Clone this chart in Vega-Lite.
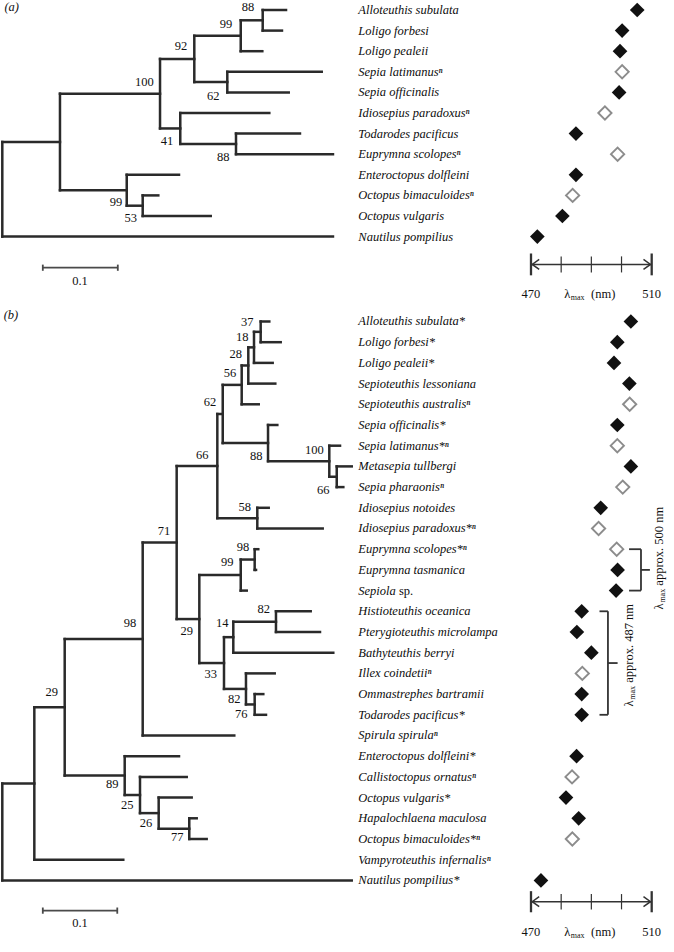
{
"$schema": "https://vega.github.io/schema/vega-lite/v6.json",
"width": 674, "height": 952,
"autosize": {"type": "none"}, "padding": 0,
"background": "white",
"config": {"view": {"stroke": null}, "font": "Liberation Serif"},
"datasets": {
"treeA": [
{"x":0,"x2":0,"y":6.406,"y2":11},{"x":0.0769,"x2":0.0769,"y":4.0625,"y2":8.75},{"x":0.2103,"x2":0.2103,"y":2.375,"y2":5.75},{"x":0.256,"x2":0.256,"y":1.25,"y2":3.5},{"x":0.3179,"x2":0.3179,"y":0.5,"y2":2},{"x":0.3472,"x2":0.3472,"y":0,"y2":1},{"x":0.3,"x2":0.3,"y":3,"y2":4},{"x":0.2373,"x2":0.2373,"y":5,"y2":6.5},{"x":0.3116,"x2":0.3116,"y":6,"y2":7},{"x":0.1659,"x2":0.1659,"y":8,"y2":9.5},{"x":0.1872,"x2":0.1872,"y":9,"y2":10},
{"x":0,"x2":0.0769,"y":6.406,"y2":6.406},{"x":0,"x2":0.4409,"y":11,"y2":11},{"x":0.0769,"x2":0.2103,"y":4.0625,"y2":4.0625},{"x":0.0769,"x2":0.1659,"y":8.75,"y2":8.75},{"x":0.2103,"x2":0.256,"y":2.375,"y2":2.375},{"x":0.2103,"x2":0.2373,"y":5.75,"y2":5.75},{"x":0.256,"x2":0.3179,"y":1.25,"y2":1.25},{"x":0.256,"x2":0.3,"y":3.5,"y2":3.5},{"x":0.3179,"x2":0.3472,"y":0.5,"y2":0.5},{"x":0.3179,"x2":0.3467,"y":2,"y2":2},{"x":0.3472,"x2":0.3783,"y":0,"y2":0},{"x":0.3472,"x2":0.3729,"y":1,"y2":1},{"x":0.3,"x2":0.4259,"y":3,"y2":3},{"x":0.3,"x2":0.3819,"y":4,"y2":4},{"x":0.2373,"x2":0.356,"y":5,"y2":5},{"x":0.2373,"x2":0.3116,"y":6.5,"y2":6.5},{"x":0.3116,"x2":0.3969,"y":6,"y2":6},{"x":0.3116,"x2":0.4409,"y":7,"y2":7},{"x":0.1659,"x2":0.2356,"y":8,"y2":8},{"x":0.1659,"x2":0.1872,"y":9.5,"y2":9.5},{"x":0.1872,"x2":0.208,"y":9,"y2":9},{"x":0.1872,"x2":0.2779,"y":10,"y2":10}
],
"treeB": [
{"x":0.3445,"x2":0.3445,"y":0,"y2":1},{"x":0.3356,"x2":0.3356,"y":0.5,"y2":2},{"x":0.328,"x2":0.328,"y":1.25,"y2":3},{"x":0.3192,"x2":0.3192,"y":2.125,"y2":4},{"x":0.4459,"x2":0.4459,"y":7,"y2":8},{"x":0.436,"x2":0.436,"y":6,"y2":7.5},{"x":0.3543,"x2":0.3543,"y":5,"y2":6.75},{"x":0.2939,"x2":0.2939,"y":3.0625,"y2":5.875},{"x":0.34,"x2":0.34,"y":9,"y2":10},{"x":0.2867,"x2":0.2867,"y":4.46875,"y2":9.5},{"x":0.3365,"x2":0.3365,"y":11,"y2":12},{"x":0.3179,"x2":0.3179,"y":11.5,"y2":13},{"x":0.3649,"x2":0.3649,"y":14,"y2":15},{"x":0.308,"x2":0.308,"y":14.5,"y2":16},{"x":0.3365,"x2":0.3365,"y":18,"y2":19},{"x":0.3249,"x2":0.3249,"y":17,"y2":18.5},{"x":0.2956,"x2":0.2956,"y":15.25,"y2":17.75},{"x":0.2627,"x2":0.2627,"y":12.25,"y2":16.5},{"x":0.2325,"x2":0.2325,"y":6.984,"y2":14.375},{"x":0.1872,"x2":0.1872,"y":10.68,"y2":20},{"x":0.2493,"x2":0.2493,"y":24,"y2":25},{"x":0.2085,"x2":0.2085,"y":23,"y2":24.5},{"x":0.1836,"x2":0.1836,"y":22,"y2":23.75},{"x":0.1632,"x2":0.1632,"y":21,"y2":22.875},{"x":0.0832,"x2":0.0832,"y":15.34,"y2":21.9375},{"x":0.0427,"x2":0.0427,"y":18.639,"y2":26},{"x":0,"x2":0,"y":22.32,"y2":27},
{"x":0,"x2":0.0427,"y":22.32,"y2":22.32},{"x":0,"x2":0.4659,"y":27,"y2":27},{"x":0.0427,"x2":0.0832,"y":18.639,"y2":18.639},{"x":0.0427,"x2":0.1613,"y":26,"y2":26},{"x":0.0832,"x2":0.1872,"y":15.34,"y2":15.34},{"x":0.0832,"x2":0.1632,"y":21.9375,"y2":21.9375},{"x":0.1872,"x2":0.2325,"y":10.68,"y2":10.68},{"x":0.1872,"x2":0.3093,"y":20,"y2":20},{"x":0.2325,"x2":0.2867,"y":6.984,"y2":6.984},{"x":0.2325,"x2":0.2627,"y":14.375,"y2":14.375},{"x":0.2867,"x2":0.2939,"y":4.46875,"y2":4.46875},{"x":0.2867,"x2":0.34,"y":9.5,"y2":9.5},{"x":0.2939,"x2":0.3192,"y":3.0625,"y2":3.0625},{"x":0.2939,"x2":0.3543,"y":5.875,"y2":5.875},{"x":0.3192,"x2":0.328,"y":2.125,"y2":2.125},{"x":0.3192,"x2":0.3419,"y":4,"y2":4},{"x":0.328,"x2":0.3356,"y":1.25,"y2":1.25},{"x":0.328,"x2":0.364,"y":3,"y2":3},{"x":0.3356,"x2":0.3445,"y":0.5,"y2":0.5},{"x":0.3356,"x2":0.3605,"y":2,"y2":2},{"x":0.3445,"x2":0.356,"y":0,"y2":0},{"x":0.3445,"x2":0.3712,"y":1,"y2":1},{"x":0.3543,"x2":0.3667,"y":5,"y2":5},{"x":0.3543,"x2":0.436,"y":6.75,"y2":6.75},{"x":0.436,"x2":0.4503,"y":6,"y2":6},{"x":0.436,"x2":0.4459,"y":7.5,"y2":7.5},{"x":0.4459,"x2":0.4659,"y":7,"y2":7},{"x":0.4459,"x2":0.4547,"y":8,"y2":8},{"x":0.34,"x2":0.3552,"y":9,"y2":9},{"x":0.34,"x2":0.4272,"y":10,"y2":10},{"x":0.2627,"x2":0.3179,"y":12.25,"y2":12.25},{"x":0.2627,"x2":0.2956,"y":16.5,"y2":16.5},{"x":0.3179,"x2":0.3365,"y":11.5,"y2":11.5},{"x":0.3179,"x2":0.3259,"y":13,"y2":13},{"x":0.3365,"x2":0.3413,"y":11,"y2":11},{"x":0.3365,"x2":0.3383,"y":12,"y2":12},{"x":0.2956,"x2":0.308,"y":15.25,"y2":15.25},{"x":0.2956,"x2":0.3249,"y":17.75,"y2":17.75},{"x":0.308,"x2":0.3649,"y":14.5,"y2":14.5},{"x":0.308,"x2":0.4413,"y":16,"y2":16},{"x":0.3649,"x2":0.4112,"y":14,"y2":14},{"x":0.3649,"x2":0.4236,"y":15,"y2":15},{"x":0.3249,"x2":0.3632,"y":17,"y2":17},{"x":0.3249,"x2":0.3365,"y":18.5,"y2":18.5},{"x":0.3365,"x2":0.348,"y":18,"y2":18},{"x":0.3365,"x2":0.3516,"y":19,"y2":19},{"x":0.1632,"x2":0.2356,"y":21,"y2":21},{"x":0.1632,"x2":0.1836,"y":22.875,"y2":22.875},{"x":0.1836,"x2":0.2459,"y":22,"y2":22},{"x":0.1836,"x2":0.2085,"y":23.75,"y2":23.75},{"x":0.2085,"x2":0.2525,"y":23,"y2":23},{"x":0.2085,"x2":0.2493,"y":24.5,"y2":24.5},{"x":0.2493,"x2":0.2592,"y":24,"y2":24},{"x":0.2493,"x2":0.2725,"y":25,"y2":25}
],
"bootA": [{"x":0.3276,"y":-0.16,"label":"88"},{"x":0.2983,"y":0.68,"label":"99"},{"x":0.2383,"y":1.73,"label":"92"},{"x":0.1893,"y":3.48,"label":"100"},{"x":0.2813,"y":4.16,"label":"62"},{"x":0.2196,"y":6.36,"label":"41"},{"x":0.2947,"y":7.12,"label":"88"},{"x":0.1516,"y":9.31,"label":"99"},{"x":0.1712,"y":10.08,"label":"53"}],
"bootB": [{"x":0.3267,"y":0.01,"label":"37"},{"x":0.32,"y":0.76,"label":"18"},{"x":0.3112,"y":1.57,"label":"28"},{"x":0.3036,"y":2.47,"label":"56"},{"x":0.2769,"y":3.87,"label":"62"},{"x":0.3387,"y":6.5,"label":"88"},{"x":0.416,"y":6.21,"label":"100"},{"x":0.428,"y":8.14,"label":"66"},{"x":0.2667,"y":6.45,"label":"66"},{"x":0.3232,"y":8.95,"label":"58"},{"x":0.2156,"y":10.11,"label":"71"},{"x":0.3209,"y":10.88,"label":"98"},{"x":0.3,"y":11.63,"label":"99"},{"x":0.2459,"y":14.94,"label":"29"},{"x":0.2933,"y":14.55,"label":"14"},{"x":0.3485,"y":13.9,"label":"82"},{"x":0.2779,"y":17.04,"label":"33"},{"x":0.3093,"y":18.22,"label":"82"},{"x":0.3187,"y":18.98,"label":"76"},{"x":0.1703,"y":14.58,"label":"98"},{"x":0.0659,"y":17.88,"label":"29"},{"x":0.1467,"y":22.34,"label":"89"},{"x":0.1667,"y":23.37,"label":"25"},{"x":0.1916,"y":24.21,"label":"26"},{"x":0.2333,"y":24.92,"label":"77"}],
"speciesA": [{"row":0,"name":"Alloteuthis subulata"},{"row":1,"name":"Loligo forbesi"},{"row":2,"name":"Loligo pealeii"},{"row":3,"name":"Sepia latimanusⁿ"},{"row":4,"name":"Sepia officinalis"},{"row":5,"name":"Idiosepius paradoxusⁿ"},{"row":6,"name":"Todarodes pacificus"},{"row":7,"name":"Euprymna scolopesⁿ"},{"row":8,"name":"Enteroctopus dolfleini"},{"row":9,"name":"Octopus bimaculoidesⁿ"},{"row":10,"name":"Octopus vulgaris"},{"row":11,"name":"Nautilus pompilius"}],
"speciesB": [{"row":0,"name":"Alloteuthis subulata*"},{"row":1,"name":"Loligo forbesi*"},{"row":2,"name":"Loligo pealeii*"},{"row":3,"name":"Sepioteuthis lessoniana"},{"row":4,"name":"Sepioteuthis australisⁿ"},{"row":5,"name":"Sepia officinalis*"},{"row":6,"name":"Sepia latimanus*ⁿ"},{"row":7,"name":"Metasepia tullbergi"},{"row":8,"name":"Sepia pharaonisⁿ"},{"row":9,"name":"Idiosepius notoides"},{"row":10,"name":"Idiosepius paradoxus*ⁿ"},{"row":11,"name":"Euprymna scolopes*ⁿ"},{"row":12,"name":"Euprymna tasmanica"},{"row":13,"name":"Sepiola"},{"row":14,"name":"Histioteuthis oceanica"},{"row":15,"name":"Pterygioteuthis microlampa"},{"row":16,"name":"Bathyteuthis berryi"},{"row":17,"name":"Illex coindetiiⁿ"},{"row":18,"name":"Ommastrephes bartramii"},{"row":19,"name":"Todarodes pacificus*"},{"row":20,"name":"Spirula spirulaⁿ"},{"row":21,"name":"Enteroctopus dolfleini*"},{"row":22,"name":"Callistoctopus ornatusⁿ"},{"row":23,"name":"Octopus vulgaris*"},{"row":24,"name":"Hapalochlaena maculosa"},{"row":25,"name":"Octopus bimaculoides*ⁿ"},{"row":26,"name":"Vampyroteuthis infernalisⁿ"},{"row":27,"name":"Nautilus pompilius*"}],
"lambdaA": [{"row":0,"lambda":505.2,"open":false},{"row":1,"lambda":500.2,"open":false},{"row":2,"lambda":499.5,"open":false},{"row":3,"lambda":500.2,"open":true},{"row":4,"lambda":499.2,"open":false},{"row":5,"lambda":494.5,"open":true},{"row":6,"lambda":484.9,"open":false},{"row":7,"lambda":498.7,"open":true},{"row":8,"lambda":484.9,"open":false},{"row":9,"lambda":483.8,"open":true},{"row":10,"lambda":480.4,"open":false},{"row":11,"lambda":472.1,"open":false}],
"lambdaB": [{"row":0,"lambda":503.1,"open":false},{"row":1,"lambda":498.6,"open":false},{"row":2,"lambda":497.5,"open":false},{"row":3,"lambda":502.6,"open":false},{"row":4,"lambda":502.7,"open":true},{"row":5,"lambda":498.6,"open":false},{"row":6,"lambda":498.6,"open":true},{"row":7,"lambda":503.1,"open":false},{"row":8,"lambda":500.4,"open":true},{"row":9,"lambda":493.1,"open":false},{"row":10,"lambda":492.4,"open":true},{"row":11,"lambda":498.4,"open":true},{"row":12,"lambda":498.7,"open":false},{"row":13,"lambda":498.2,"open":false},{"row":14,"lambda":486.8,"open":false},{"row":15,"lambda":485.2,"open":false},{"row":16,"lambda":490,"open":false},{"row":17,"lambda":487,"open":true},{"row":18,"lambda":486.8,"open":false},{"row":19,"lambda":486.8,"open":false},{"row":21,"lambda":485.1,"open":false},{"row":22,"lambda":483.6,"open":true},{"row":23,"lambda":481.6,"open":false},{"row":24,"lambda":485.8,"open":false},{"row":25,"lambda":483.7,"open":true},{"row":27,"lambda":473.3,"open":false}],
"scaleA": [{"x":0.054,"x2":0.154,"y":12.51,"y2":12.51},{"x":0.054,"x2":0.054,"y":12.36,"y2":12.66},{"x":0.154,"x2":0.154,"y":12.36,"y2":12.66}],
"scaleB": [{"x":0.054,"x2":0.1533,"y":28.46,"y2":28.46},{"x":0.054,"x2":0.054,"y":28.31,"y2":28.61},{"x":0.1533,"x2":0.1533,"y":28.31,"y2":28.61}],
"textA": [{"x":0.1036,"y":13.16,"t":"0.1","part":"bar"},{"x":0.0125,"y":-0.13,"t":"(a)","part":"panel"}],
"textB": [{"x":0.1036,"y":29.04,"t":"0.1","part":"bar"},{"x":0.0115,"y":-0.31,"t":"(b)","part":"panel"},{"x":0.5288,"y":13,"t":"sp.","part":"sp"}],
"axisA": [{"part":"line","lambda":470,"lambda2":510,"y":12.35,"y2":12.35},{"part":"end","lambda":470,"lambda2":470,"y":11.82,"y2":12.88},{"part":"end","lambda":510,"lambda2":510,"y":11.82,"y2":12.88},{"part":"tick","lambda":480,"lambda2":480,"y":11.96,"y2":12.74},{"part":"tick","lambda":490,"lambda2":490,"y":11.96,"y2":12.74},{"part":"tick","lambda":500,"lambda2":500,"y":11.96,"y2":12.74}],
"axisB": [{"part":"line","lambda":470,"lambda2":510,"y":28.03,"y2":28.03},{"part":"end","lambda":470,"lambda2":470,"y":27.52,"y2":28.54},{"part":"end","lambda":510,"lambda2":510,"y":27.52,"y2":28.54},{"part":"tick","lambda":480,"lambda2":480,"y":27.66,"y2":28.4},{"part":"tick","lambda":490,"lambda2":490,"y":27.66,"y2":28.4},{"part":"tick","lambda":500,"lambda2":500,"y":27.66,"y2":28.4}],
"arrowsA": [{"dir":"left","lambda":470.4,"y":12.35},{"dir":"right","lambda":509.6,"y":12.35}],
"arrowsB": [{"dir":"left","lambda":470.4,"y":28.03},{"dir":"right","lambda":509.6,"y":28.03}],
"axisTextA": [{"part":"num","lambda":470,"y":13.79,"t":"470"},{"part":"num","lambda":510,"y":13.79,"t":"510"},{"part":"lam","lambda":482.03,"y":13.79,"t":"λ"},{"part":"max","lambda":483.2,"y":13.79,"t":"max"},{"part":"nm","lambda":489.9,"y":13.79,"t":"(nm)"}],
"axisTextB": [{"part":"num","lambda":470,"y":29.5,"t":"470"},{"part":"num","lambda":510,"y":29.5,"t":"510"},{"part":"lam","lambda":482.03,"y":29.5,"t":"λ"},{"part":"max","lambda":483.2,"y":29.5,"t":"max"},{"part":"nm","lambda":489.9,"y":29.5,"t":"(nm)"}],
"brackets": [{"lambda":495.5,"lambda2":495.5,"y":14,"y2":19},{"lambda":492.7,"lambda2":495.5,"y":14,"y2":14},{"lambda":492.7,"lambda2":495.5,"y":19,"y2":19},{"lambda":495.5,"lambda2":498.7,"y":16.5,"y2":16.5},{"lambda":506.45,"lambda2":506.45,"y":11,"y2":13},{"lambda":502.5,"lambda2":506.45,"y":11,"y2":11},{"lambda":502.5,"lambda2":506.45,"y":13,"y2":13},{"lambda":506.45,"lambda2":509.4,"y":12,"y2":12}],
"bracketText": [{"part":"lam","lambda":502.5,"y":18.6,"t":"λ"},{"part":"max","lambda":502.5,"y":18.27,"t":"max"},{"part":"rest","lambda":502.5,"y":17.45,"t":"approx. 487 nm"},{"part":"lam","lambda":512.4,"y":13.91,"t":"λ"},{"part":"max","lambda":512.4,"y":13.58,"t":"max"},{"part":"rest","lambda":512.4,"y":12.76,"t":"approx. 500 nm"}]
},
"layer": [
{"data":{"name":"treeA"},"mark":{"type":"rule","stroke":"#2a2a2a","strokeWidth":2.5,"strokeCap":"square"},"encoding":{"x":{"field":"x","type":"quantitative","scale":{"domain":[-0.003067,0.8956],"nice":false,"zero":false},"axis":null},"x2":{"field":"x2"},"y":{"field":"y","type":"quantitative","scale":{"domain":[-0.4854,45.728],"reverse":true,"nice":false,"zero":false},"axis":null},"y2":{"field":"y2"}}},
{"data":{"name":"bootA"},"mark":{"type":"text","font":"Liberation Serif","fontSize":12.5,"align":"center","baseline":"middle","color":"#111"},"encoding":{"x":{"field":"x","type":"quantitative","scale":{"domain":[-0.003067,0.8956],"nice":false,"zero":false},"axis":null},"y":{"field":"y","type":"quantitative","scale":{"domain":[-0.4854,45.728],"reverse":true,"nice":false,"zero":false},"axis":null},"text":{"field":"label"}}},
{"data":{"name":"speciesA"},"mark":{"type":"text","font":"Liberation Serif","fontSize":12.5,"fontStyle":"italic","align":"left","baseline":"middle","color":"#0d0d0d"},"encoding":{"x":{"datum":0.4747,"type":"quantitative","scale":{"domain":[-0.003067,0.8956],"nice":false,"zero":false},"axis":null},"y":{"field":"row","type":"quantitative","scale":{"domain":[-0.4854,45.728],"reverse":true,"nice":false,"zero":false},"axis":null},"text":{"field":"name"}}},
{"data":{"name":"scaleA"},"mark":{"type":"rule","stroke":"#4a4a4a","strokeWidth":1.8},"encoding":{"x":{"field":"x","type":"quantitative","scale":{"domain":[-0.003067,0.8956],"nice":false,"zero":false},"axis":null},"x2":{"field":"x2"},"y":{"field":"y","type":"quantitative","scale":{"domain":[-0.4854,45.728],"reverse":true,"nice":false,"zero":false},"axis":null},"y2":{"field":"y2"}}},
{"data":{"name":"textA"},"transform":[{"filter":"datum.part == 'bar'"}],"mark":{"type":"text","font":"Liberation Serif","fontSize":12.5,"align":"center","baseline":"middle","color":"#111"},"encoding":{"x":{"field":"x","type":"quantitative","scale":{"domain":[-0.003067,0.8956],"nice":false,"zero":false},"axis":null},"y":{"field":"y","type":"quantitative","scale":{"domain":[-0.4854,45.728],"reverse":true,"nice":false,"zero":false},"axis":null},"text":{"field":"t"}}},
{"data":{"name":"textA"},"transform":[{"filter":"datum.part == 'panel'"}],"mark":{"type":"text","font":"Liberation Serif","fontSize":12.5,"fontStyle":"italic","align":"center","baseline":"middle","color":"#111"},"encoding":{"x":{"field":"x","type":"quantitative","scale":{"domain":[-0.003067,0.8956],"nice":false,"zero":false},"axis":null},"y":{"field":"y","type":"quantitative","scale":{"domain":[-0.4854,45.728],"reverse":true,"nice":false,"zero":false},"axis":null},"text":{"field":"t"}}},
{"data":{"name":"lambdaA"},"transform":[{"filter":"!datum.open"}],"mark":{"type":"point","shape":"diamond","filled":true,"size":215,"color":"#111","opacity":1},"encoding":{"x":{"field":"lambda","type":"quantitative","scale":{"domain":[294.03,517.39],"nice":false,"zero":false},"axis":null},"y":{"field":"row","type":"quantitative","scale":{"domain":[-0.4854,45.728],"reverse":true,"nice":false,"zero":false},"axis":null}}},
{"data":{"name":"lambdaA"},"transform":[{"filter":"datum.open"}],"mark":{"type":"point","shape":"diamond","filled":false,"size":175,"stroke":"#8c8c8c","strokeWidth":1.9,"opacity":1},"encoding":{"x":{"field":"lambda","type":"quantitative","scale":{"domain":[294.03,517.39],"nice":false,"zero":false},"axis":null},"y":{"field":"row","type":"quantitative","scale":{"domain":[-0.4854,45.728],"reverse":true,"nice":false,"zero":false},"axis":null}}},
{"data":{"name":"axisA"},"transform":[{"filter":"datum.part == 'line'"}],"mark":{"type":"rule","stroke":"#333","strokeWidth":1.5},"encoding":{"x":{"field":"lambda","type":"quantitative","scale":{"domain":[294.03,517.39],"nice":false,"zero":false},"axis":null},"x2":{"field":"lambda2"},"y":{"field":"y","type":"quantitative","scale":{"domain":[-0.4854,45.728],"reverse":true,"nice":false,"zero":false},"axis":null},"y2":{"field":"y2"}}},
{"data":{"name":"axisA"},"transform":[{"filter":"datum.part == 'end'"}],"mark":{"type":"rule","stroke":"#333","strokeWidth":2.3},"encoding":{"x":{"field":"lambda","type":"quantitative","scale":{"domain":[294.03,517.39],"nice":false,"zero":false},"axis":null},"x2":{"field":"lambda2"},"y":{"field":"y","type":"quantitative","scale":{"domain":[-0.4854,45.728],"reverse":true,"nice":false,"zero":false},"axis":null},"y2":{"field":"y2"}}},
{"data":{"name":"axisA"},"transform":[{"filter":"datum.part == 'tick'"}],"mark":{"type":"rule","stroke":"#333","strokeWidth":1.2},"encoding":{"x":{"field":"lambda","type":"quantitative","scale":{"domain":[294.03,517.39],"nice":false,"zero":false},"axis":null},"x2":{"field":"lambda2"},"y":{"field":"y","type":"quantitative","scale":{"domain":[-0.4854,45.728],"reverse":true,"nice":false,"zero":false},"axis":null},"y2":{"field":"y2"}}},
{"data":{"name":"arrowsA"},"transform":[{"filter":"datum.dir == 'left'"}],"mark":{"type":"point","shape":"M1.4,-1L0,0L1.4,1","filled":false,"size":100,"stroke":"#333","strokeWidth":1.5,"opacity":1},"encoding":{"x":{"field":"lambda","type":"quantitative","scale":{"domain":[294.03,517.39],"nice":false,"zero":false},"axis":null},"y":{"field":"y","type":"quantitative","scale":{"domain":[-0.4854,45.728],"reverse":true,"nice":false,"zero":false},"axis":null}}},
{"data":{"name":"arrowsA"},"transform":[{"filter":"datum.dir == 'right'"}],"mark":{"type":"point","shape":"M-1.4,-1L0,0L-1.4,1","filled":false,"size":100,"stroke":"#333","strokeWidth":1.5,"opacity":1},"encoding":{"x":{"field":"lambda","type":"quantitative","scale":{"domain":[294.03,517.39],"nice":false,"zero":false},"axis":null},"y":{"field":"y","type":"quantitative","scale":{"domain":[-0.4854,45.728],"reverse":true,"nice":false,"zero":false},"axis":null}}},
{"data":{"name":"axisTextA"},"transform":[{"filter":"datum.part == 'num' || datum.part == 'lam'"}],"mark":{"type":"text","font":"Liberation Serif","fontSize":12.5,"align":"center","baseline":"middle","color":"#111"},"encoding":{"x":{"field":"lambda","type":"quantitative","scale":{"domain":[294.03,517.39],"nice":false,"zero":false},"axis":null},"y":{"field":"y","type":"quantitative","scale":{"domain":[-0.4854,45.728],"reverse":true,"nice":false,"zero":false},"axis":null},"text":{"field":"t"}}},
{"data":{"name":"axisTextA"},"transform":[{"filter":"datum.part == 'max'"}],"mark":{"type":"text","font":"Liberation Serif","fontSize":8,"align":"left","baseline":"middle","dy":4,"color":"#111"},"encoding":{"x":{"field":"lambda","type":"quantitative","scale":{"domain":[294.03,517.39],"nice":false,"zero":false},"axis":null},"y":{"field":"y","type":"quantitative","scale":{"domain":[-0.4854,45.728],"reverse":true,"nice":false,"zero":false},"axis":null},"text":{"field":"t"}}},
{"data":{"name":"axisTextA"},"transform":[{"filter":"datum.part == 'nm'"}],"mark":{"type":"text","font":"Liberation Serif","fontSize":12.5,"align":"left","baseline":"middle","color":"#111"},"encoding":{"x":{"field":"lambda","type":"quantitative","scale":{"domain":[294.03,517.39],"nice":false,"zero":false},"axis":null},"y":{"field":"y","type":"quantitative","scale":{"domain":[-0.4854,45.728],"reverse":true,"nice":false,"zero":false},"axis":null},"text":{"field":"t"}}},

{"data":{"name":"treeB"},"mark":{"type":"rule","stroke":"#2a2a2a","strokeWidth":2.5,"strokeCap":"square"},"encoding":{"x":{"field":"x","type":"quantitative","scale":{"domain":[-0.003067,0.8956],"nice":false,"zero":false},"axis":null},"x2":{"field":"x2"},"y":{"field":"y","type":"quantitative","scale":{"domain":[-15.531,30.459],"reverse":true,"nice":false,"zero":false},"axis":null},"y2":{"field":"y2"}}},
{"data":{"name":"bootB"},"mark":{"type":"text","font":"Liberation Serif","fontSize":12.5,"align":"center","baseline":"middle","color":"#111"},"encoding":{"x":{"field":"x","type":"quantitative","scale":{"domain":[-0.003067,0.8956],"nice":false,"zero":false},"axis":null},"y":{"field":"y","type":"quantitative","scale":{"domain":[-15.531,30.459],"reverse":true,"nice":false,"zero":false},"axis":null},"text":{"field":"label"}}},
{"data":{"name":"speciesB"},"mark":{"type":"text","font":"Liberation Serif","fontSize":12.5,"fontStyle":"italic","align":"left","baseline":"middle","color":"#0d0d0d"},"encoding":{"x":{"datum":0.4747,"type":"quantitative","scale":{"domain":[-0.003067,0.8956],"nice":false,"zero":false},"axis":null},"y":{"field":"row","type":"quantitative","scale":{"domain":[-15.531,30.459],"reverse":true,"nice":false,"zero":false},"axis":null},"text":{"field":"name"}}},
{"data":{"name":"scaleB"},"mark":{"type":"rule","stroke":"#4a4a4a","strokeWidth":1.8},"encoding":{"x":{"field":"x","type":"quantitative","scale":{"domain":[-0.003067,0.8956],"nice":false,"zero":false},"axis":null},"x2":{"field":"x2"},"y":{"field":"y","type":"quantitative","scale":{"domain":[-15.531,30.459],"reverse":true,"nice":false,"zero":false},"axis":null},"y2":{"field":"y2"}}},
{"data":{"name":"textB"},"transform":[{"filter":"datum.part == 'bar'"}],"mark":{"type":"text","font":"Liberation Serif","fontSize":12.5,"align":"center","baseline":"middle","color":"#111"},"encoding":{"x":{"field":"x","type":"quantitative","scale":{"domain":[-0.003067,0.8956],"nice":false,"zero":false},"axis":null},"y":{"field":"y","type":"quantitative","scale":{"domain":[-15.531,30.459],"reverse":true,"nice":false,"zero":false},"axis":null},"text":{"field":"t"}}},
{"data":{"name":"textB"},"transform":[{"filter":"datum.part == 'panel'"}],"mark":{"type":"text","font":"Liberation Serif","fontSize":12.5,"fontStyle":"italic","align":"center","baseline":"middle","color":"#111"},"encoding":{"x":{"field":"x","type":"quantitative","scale":{"domain":[-0.003067,0.8956],"nice":false,"zero":false},"axis":null},"y":{"field":"y","type":"quantitative","scale":{"domain":[-15.531,30.459],"reverse":true,"nice":false,"zero":false},"axis":null},"text":{"field":"t"}}},
{"data":{"name":"textB"},"transform":[{"filter":"datum.part == 'sp'"}],"mark":{"type":"text","font":"Liberation Serif","fontSize":12.5,"align":"left","baseline":"middle","color":"#0d0d0d"},"encoding":{"x":{"field":"x","type":"quantitative","scale":{"domain":[-0.003067,0.8956],"nice":false,"zero":false},"axis":null},"y":{"field":"y","type":"quantitative","scale":{"domain":[-15.531,30.459],"reverse":true,"nice":false,"zero":false},"axis":null},"text":{"field":"t"}}},
{"data":{"name":"lambdaB"},"transform":[{"filter":"!datum.open"}],"mark":{"type":"point","shape":"diamond","filled":true,"size":215,"color":"#111","opacity":1},"encoding":{"x":{"field":"lambda","type":"quantitative","scale":{"domain":[294.03,517.39],"nice":false,"zero":false},"axis":null},"y":{"field":"row","type":"quantitative","scale":{"domain":[-15.531,30.459],"reverse":true,"nice":false,"zero":false},"axis":null}}},
{"data":{"name":"lambdaB"},"transform":[{"filter":"datum.open"}],"mark":{"type":"point","shape":"diamond","filled":false,"size":175,"stroke":"#8c8c8c","strokeWidth":1.9,"opacity":1},"encoding":{"x":{"field":"lambda","type":"quantitative","scale":{"domain":[294.03,517.39],"nice":false,"zero":false},"axis":null},"y":{"field":"row","type":"quantitative","scale":{"domain":[-15.531,30.459],"reverse":true,"nice":false,"zero":false},"axis":null}}},
{"data":{"name":"axisB"},"transform":[{"filter":"datum.part == 'line'"}],"mark":{"type":"rule","stroke":"#333","strokeWidth":1.5},"encoding":{"x":{"field":"lambda","type":"quantitative","scale":{"domain":[294.03,517.39],"nice":false,"zero":false},"axis":null},"x2":{"field":"lambda2"},"y":{"field":"y","type":"quantitative","scale":{"domain":[-15.531,30.459],"reverse":true,"nice":false,"zero":false},"axis":null},"y2":{"field":"y2"}}},
{"data":{"name":"axisB"},"transform":[{"filter":"datum.part == 'end'"}],"mark":{"type":"rule","stroke":"#333","strokeWidth":2.3},"encoding":{"x":{"field":"lambda","type":"quantitative","scale":{"domain":[294.03,517.39],"nice":false,"zero":false},"axis":null},"x2":{"field":"lambda2"},"y":{"field":"y","type":"quantitative","scale":{"domain":[-15.531,30.459],"reverse":true,"nice":false,"zero":false},"axis":null},"y2":{"field":"y2"}}},
{"data":{"name":"axisB"},"transform":[{"filter":"datum.part == 'tick'"}],"mark":{"type":"rule","stroke":"#333","strokeWidth":1.2},"encoding":{"x":{"field":"lambda","type":"quantitative","scale":{"domain":[294.03,517.39],"nice":false,"zero":false},"axis":null},"x2":{"field":"lambda2"},"y":{"field":"y","type":"quantitative","scale":{"domain":[-15.531,30.459],"reverse":true,"nice":false,"zero":false},"axis":null},"y2":{"field":"y2"}}},
{"data":{"name":"arrowsB"},"transform":[{"filter":"datum.dir == 'left'"}],"mark":{"type":"point","shape":"M1.4,-1L0,0L1.4,1","filled":false,"size":100,"stroke":"#333","strokeWidth":1.5,"opacity":1},"encoding":{"x":{"field":"lambda","type":"quantitative","scale":{"domain":[294.03,517.39],"nice":false,"zero":false},"axis":null},"y":{"field":"y","type":"quantitative","scale":{"domain":[-15.531,30.459],"reverse":true,"nice":false,"zero":false},"axis":null}}},
{"data":{"name":"arrowsB"},"transform":[{"filter":"datum.dir == 'right'"}],"mark":{"type":"point","shape":"M-1.4,-1L0,0L-1.4,1","filled":false,"size":100,"stroke":"#333","strokeWidth":1.5,"opacity":1},"encoding":{"x":{"field":"lambda","type":"quantitative","scale":{"domain":[294.03,517.39],"nice":false,"zero":false},"axis":null},"y":{"field":"y","type":"quantitative","scale":{"domain":[-15.531,30.459],"reverse":true,"nice":false,"zero":false},"axis":null}}},
{"data":{"name":"axisTextB"},"transform":[{"filter":"datum.part == 'num' || datum.part == 'lam'"}],"mark":{"type":"text","font":"Liberation Serif","fontSize":12.5,"align":"center","baseline":"middle","color":"#111"},"encoding":{"x":{"field":"lambda","type":"quantitative","scale":{"domain":[294.03,517.39],"nice":false,"zero":false},"axis":null},"y":{"field":"y","type":"quantitative","scale":{"domain":[-15.531,30.459],"reverse":true,"nice":false,"zero":false},"axis":null},"text":{"field":"t"}}},
{"data":{"name":"axisTextB"},"transform":[{"filter":"datum.part == 'max'"}],"mark":{"type":"text","font":"Liberation Serif","fontSize":8,"align":"left","baseline":"middle","dy":4,"color":"#111"},"encoding":{"x":{"field":"lambda","type":"quantitative","scale":{"domain":[294.03,517.39],"nice":false,"zero":false},"axis":null},"y":{"field":"y","type":"quantitative","scale":{"domain":[-15.531,30.459],"reverse":true,"nice":false,"zero":false},"axis":null},"text":{"field":"t"}}},
{"data":{"name":"axisTextB"},"transform":[{"filter":"datum.part == 'nm'"}],"mark":{"type":"text","font":"Liberation Serif","fontSize":12.5,"align":"left","baseline":"middle","color":"#111"},"encoding":{"x":{"field":"lambda","type":"quantitative","scale":{"domain":[294.03,517.39],"nice":false,"zero":false},"axis":null},"y":{"field":"y","type":"quantitative","scale":{"domain":[-15.531,30.459],"reverse":true,"nice":false,"zero":false},"axis":null},"text":{"field":"t"}}},
{"data":{"name":"brackets"},"mark":{"type":"rule","stroke":"#333","strokeWidth":1.8},"encoding":{"x":{"field":"lambda","type":"quantitative","scale":{"domain":[294.03,517.39],"nice":false,"zero":false},"axis":null},"x2":{"field":"lambda2"},"y":{"field":"y","type":"quantitative","scale":{"domain":[-15.531,30.459],"reverse":true,"nice":false,"zero":false},"axis":null},"y2":{"field":"y2"}}},
{"data":{"name":"bracketText"},"transform":[{"filter":"datum.part == 'lam'"}],"mark":{"type":"text","font":"Liberation Serif","fontSize":12.5,"angle":270,"align":"left","baseline":"middle","color":"#111"},"encoding":{"x":{"field":"lambda","type":"quantitative","scale":{"domain":[294.03,517.39],"nice":false,"zero":false},"axis":null},"y":{"field":"y","type":"quantitative","scale":{"domain":[-15.531,30.459],"reverse":true,"nice":false,"zero":false},"axis":null},"text":{"field":"t"}}},
{"data":{"name":"bracketText"},"transform":[{"filter":"datum.part == 'max'"}],"mark":{"type":"text","font":"Liberation Serif","fontSize":8,"angle":270,"align":"left","baseline":"middle","dy":4,"color":"#111"},"encoding":{"x":{"field":"lambda","type":"quantitative","scale":{"domain":[294.03,517.39],"nice":false,"zero":false},"axis":null},"y":{"field":"y","type":"quantitative","scale":{"domain":[-15.531,30.459],"reverse":true,"nice":false,"zero":false},"axis":null},"text":{"field":"t"}}},
{"data":{"name":"bracketText"},"transform":[{"filter":"datum.part == 'rest'"}],"mark":{"type":"text","font":"Liberation Serif","fontSize":12.5,"angle":270,"align":"left","baseline":"middle","color":"#111"},"encoding":{"x":{"field":"lambda","type":"quantitative","scale":{"domain":[294.03,517.39],"nice":false,"zero":false},"axis":null},"y":{"field":"y","type":"quantitative","scale":{"domain":[-15.531,30.459],"reverse":true,"nice":false,"zero":false},"axis":null},"text":{"field":"t"}}}
],
"resolve": {"scale": {"x": "independent", "y": "independent"}}
}
